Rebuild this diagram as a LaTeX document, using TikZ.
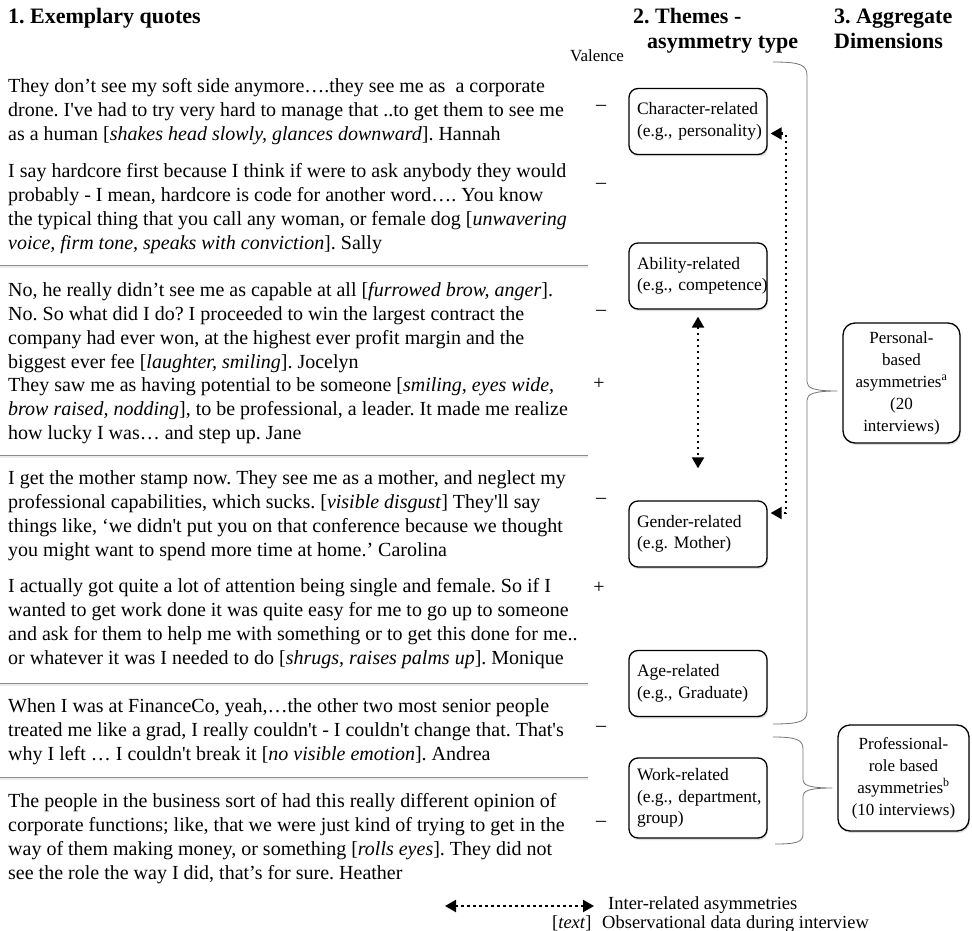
\documentclass[tikz,border=0pt]{standalone}
\usepackage{fontspec}
\setmainfont{Liberation Serif}[Ligatures=TeXOff]
\usetikzlibrary{arrows.meta,shadows,calc}
\AtBeginDocument{\frenchspacing}
\begin{document}
\begin{tikzpicture}[x=1pt,y=-1pt,
  every node/.style={inner sep=0pt},
  quote/.style={anchor=base west, align=left, font=\frenchspacing\fontsize{20}{24}\selectfont},
  head/.style={anchor=base west, align=left, font=\bfseries\fontsize{22}{25}\selectfont},
  val/.style={font=\fontsize{20}{24}\selectfont},
  legtext/.style={anchor=base west, font=\fontsize{18.5}{21}\selectfont},
  sepline/.style={draw=black!45, line width=0.6pt},
  sepshade/.style={draw=black!8, line width=2pt},
  theme/.style={draw, fill=white, line width=1.3pt, rounded corners=9pt, text width=122pt,
    inner xsep=8pt, inner ysep=0pt, align=left, font=\frenchspacing\fontsize{17.5}{21.5}\selectfont,
    minimum height=66pt, drop shadow={opacity=0.25,shadow xshift=1pt,shadow yshift=-2pt}},
  aggr/.style={draw, fill=white, line width=1.3pt, rounded corners=12pt, align=center,
    font=\fontsize{17}{22}\selectfont, drop shadow={opacity=0.25,shadow xshift=1pt,shadow yshift=-2pt}},
  brace/.style={draw=black!55, line width=0.8pt},
  interrel/.style={line width=2.2pt, dash pattern=on 2.2pt off 3.8pt,
    {Triangle[length=11pt,width=12pt]}-{Triangle[length=11pt,width=12pt]}}
]
\useasboundingbox (0,0) rectangle (972,931);

% headings
\node[head] (h1) at (8,24) {1. Exemplary quotes};
\node[head] (h2a) at (633,24) {2. Themes -};
\node[head] (h2b) at (647,49) {asymmetry type};
\node[head] (h3a) at (834,24) {3. Aggregate};
\node[head] (h3b) at (834,49) {Dimensions};
\node[anchor=base west, font=\fontsize{17}{20}\selectfont] (valh) at (570,62) {Valence};

% quotes (anchor = baseline of the last line)
\node[quote] (q1) at (8,141) {They don’t see my soft side anymore….they see me as~ a corporate\\
drone. I've had to try very hard to manage that ..to get them to see me\\
as a human [\textit{shakes head slowly, glances downward}]. Hannah};
\node[quote] (q2) at (8,249) {I say hardcore first because I think if were to ask anybody they would\\
probably - I mean, hardcore is code for another word…. You know\\
the typical thing that you call any woman, or female dog [\textit{unwavering}\\
\textit{voice, firm tone, speaks with conviction}]. Sally};
\node[quote] (q3) at (8,368) {No, he really didn’t see me as capable at all [\textit{furrowed brow, anger}].\\
No. So what did I do? I proceeded to win the largest contract the\\
company had ever won, at the highest ever profit margin and the\\
biggest ever fee [\textit{laughter, smiling}]. Jocelyn};
\node[quote] (q4) at (8,439) {They saw me as having potential to be someone [\textit{smiling, eyes wide,}\\
\textit{brow raised, nodding}], to be professional, a leader. It made me realize\\
how lucky I was… and step up. Jane};
\node[quote] (q5) at (8,556) {I get the mother stamp now. They see me as a mother, and neglect my\\
professional capabilities, which sucks. [\textit{visible disgust}] They'll say\\
things like, ‘we didn't put you on that conference because we thought\\
you might want to spend more time at home.’ Carolina};
\node[quote] (q6) at (8,664) {I actually got quite a lot of attention being single and female. So if I\\
wanted to get work done it was quite easy for me to go up to someone\\
and ask for them to help me with something or to get this done for me..\\
or whatever it was I needed to do [\textit{shrugs, raises palms up}]. Monique};
\node[quote] (q7) at (8,760) {When I was at FinanceCo, yeah,…the other two most senior people\\
treated me like a grad, I really couldn't - I couldn't change that. That's\\
why I left … I couldn't break it [\textit{no visible emotion}]. Andrea};
\node[quote] (q8) at (8,879) {The people in the business sort of had this really different opinion of\\
corporate functions; like, that we were just kind of trying to get in the\\
way of them making money, or something [\textit{rolls eyes}]. They did not\\
see the role the way I did, that’s for sure. Heather};

% separators
\foreach \yy in {265,455,683,777}{
  \draw[sepshade] (0,\yy+1.5) -- (588,\yy+1.5);
  \draw[sepline] (0,\yy) -- (588,\yy);
}

% valence marks
\node[val] (v1) at (601,108) {–};
\node[val] (v2) at (601,186) {–};
\node[val] (v3) at (601,313) {–};
\node[val] (v4) at (599,384) {+};
\node[val] (v5) at (601,501) {–};
\node[val] (v6) at (599,588) {+};
\node[val] (v7) at (601,729) {–};
\node[val] (v8) at (601,824) {–};

% theme boxes
\node[theme] (char) at (698,121.5) {\mbox{Character-related}\\\mbox{(e.g., personality)}};
\node[theme] (abil) at (698,276) {\mbox{Ability-related}\\\mbox{(e.g., competence)}};
\node[theme] (gender) at (698,534) {\mbox{Gender-related}\\\mbox{(e.g. Mother)}};
\node[theme] (age) at (698,683.5) {\mbox{Age-related}\\\mbox{(e.g., Graduate)}};
\node[theme, minimum height=80pt] (work) at (698,798) {\mbox{Work-related}\\\mbox{(e.g., department,}\\\mbox{group)}};

% aggregate boxes
\node[aggr, minimum width=117pt, minimum height=120pt] (pers) at (901.5,383) {Personal-\\based\\asymmetries\textsuperscript{a}\\(20\\interviews)};
\node[aggr, minimum width=131pt, minimum height=106pt] (prof) at (903.5,778) {Professional-\\role based\\asymmetries\textsuperscript{b}\\(10 interviews)};

% inter-related arrows
\draw[interrel] ([shift={(3,12)}]char.east) -- ++(15,0) |- ([shift={(3,-21)}]gender.east);
\draw[interrel] ([shift={(0,7)}]abil.south) -- ([shift={(0,-32)}]gender.north);

% braces
\draw[brace] (773,62) .. controls (801,62) and (807,65) .. (807,76) -- (807,382)
  .. controls (807,388) and (814,391) .. ([shift={(-5,8)}]pers.west)
  .. controls (814,391) and (807,394) .. (807,400) -- (807,711)
  .. controls (807,721) and (801,724) .. (773,724);
\draw[brace] (773,737) .. controls (797,737) and (803,740) .. (803,749) -- (803,780)
  .. controls (803,785) and (809,788) .. ([shift={(-5,10)}]prof.west)
  .. controls (809,788) and (803,791) .. (803,796) -- (803,834)
  .. controls (803,842) and (797,844) .. (775,844);

% legend
\coordinate (legA) at (445,906);
\coordinate (legB) at (594,906);
\draw[interrel] (legA) -- (legB);
\node[legtext] (leg1) at (608,909) {Inter-related asymmetries};
\node[legtext] (leg2a) at (552,928.5) {[\textit{text}]};
\node[legtext] (leg2b) at (602,928.5) {Observational data during interview};
\end{tikzpicture}
\end{document}
